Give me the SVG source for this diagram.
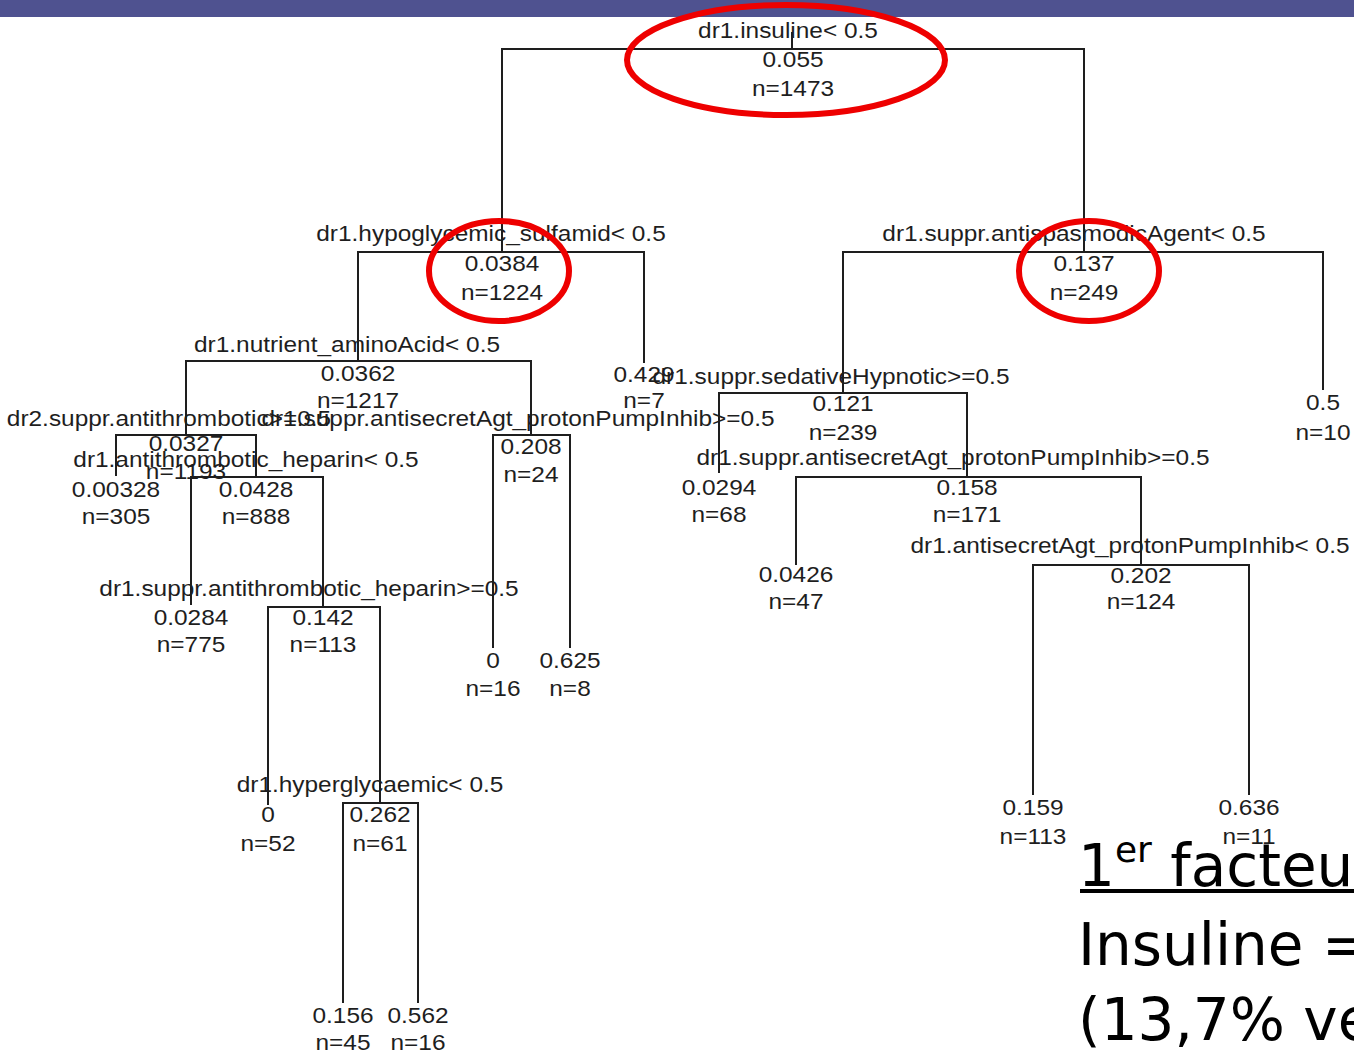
<svg xmlns="http://www.w3.org/2000/svg" width="1354" height="1053" viewBox="0 0 1354 1053">
<style>
.t{font-family:"Liberation Sans",Arial,sans-serif;font-size:22px;fill:#1e1e1e;text-anchor:middle}
.e{fill:none;stroke:#1e1e1e;stroke-width:2}
.r{fill:none;stroke:#ee0000;stroke-width:6}
.s{font-family:"DejaVu Sans",Verdana,sans-serif;font-size:58px;fill:#000}
</style>
<rect x="0" y="0" width="1354" height="1053" fill="#fff"/>
<rect x="0" y="0" width="1354" height="17" fill="#4f5290"/>
<g id="connectors">
<path class="e" d="M792 32V49"/>
<path class="e" d="M502 252V49H1084V252"/>
<path class="e" d="M358 361V252H644V363"/>
<path class="e" d="M843 393V252H1323V390"/>
<path class="e" d="M186 435V361H531V435"/>
<path class="e" d="M719 473V393H967V477"/>
<path class="e" d="M116 476V435H256V477"/>
<path class="e" d="M493 648V435H570V648"/>
<path class="e" d="M191 605V477H323V607"/>
<path class="e" d="M796 565V477H1141V565"/>
<path class="e" d="M268 805V607H380V803"/>
<path class="e" d="M1033 795V565H1249V795"/>
<path class="e" d="M343 1003V803H418V1003"/>
</g>
<g id="n-root"><text class="t" transform="translate(788,38) scale(1.11,1)">dr1.insuline&lt; 0.5</text><text class="t" transform="translate(793,67) scale(1.11,1)">0.055</text><text class="t" transform="translate(793,96) scale(1.11,1)">n=1473</text></g>
<g id="n-hypo"><text class="t" transform="translate(491,241) scale(1.11,1)">dr1.hypoglycemic_sulfamid&lt; 0.5</text><text class="t" transform="translate(502,271) scale(1.11,1)">0.0384</text><text class="t" transform="translate(502,300) scale(1.11,1)">n=1224</text></g>
<g id="n-antispas"><text class="t" transform="translate(1074,241) scale(1.11,1)">dr1.suppr.antispasmodicAgent&lt; 0.5</text><text class="t" transform="translate(1084,271) scale(1.11,1)">0.137</text><text class="t" transform="translate(1084,300) scale(1.11,1)">n=249</text></g>
<g id="n-nutrient"><text class="t" transform="translate(347,352) scale(1.11,1)">dr1.nutrient_aminoAcid&lt; 0.5</text><text class="t" transform="translate(358,381) scale(1.11,1)">0.0362</text><text class="t" transform="translate(358,408) scale(1.11,1)">n=1217</text></g>
<g id="n-leaf429"><text class="t" transform="translate(644,382) scale(1.11,1)">0.429</text><text class="t" transform="translate(644,408) scale(1.11,1)">n=7</text></g>
<g id="n-sedative"><text class="t" transform="translate(831,384) scale(1.11,1)">dr1.suppr.sedativeHypnotic&gt;=0.5</text><text class="t" transform="translate(843,411) scale(1.11,1)">0.121</text><text class="t" transform="translate(843,440) scale(1.11,1)">n=239</text></g>
<g id="n-leaf05"><text class="t" transform="translate(1323,410) scale(1.11,1)">0.5</text><text class="t" transform="translate(1323,440) scale(1.11,1)">n=10</text></g>
<g id="n-dr2antithrombotic"><text class="t" transform="translate(169,426) scale(1.11,1)">dr2.suppr.antithrombotic&gt;=0.5</text><text class="t" transform="translate(186,451) scale(1.11,1)">0.0327</text><text class="t" transform="translate(186,479) scale(1.11,1)">n=1193</text></g>
<g id="n-antisecretL"><text class="t" transform="translate(518,426) scale(1.11,1)">dr1.suppr.antisecretAgt_protonPumpInhib&gt;=0.5</text><text class="t" transform="translate(531,454) scale(1.11,1)">0.208</text><text class="t" transform="translate(531,482) scale(1.11,1)">n=24</text></g>
<g id="n-leaf00328"><text class="t" transform="translate(116,497) scale(1.11,1)">0.00328</text><text class="t" transform="translate(116,524) scale(1.11,1)">n=305</text></g>
<g id="n-heparin"><text class="t" transform="translate(246,467) scale(1.11,1)">dr1.antithrombotic_heparin&lt; 0.5</text><text class="t" transform="translate(256,497) scale(1.11,1)">0.0428</text><text class="t" transform="translate(256,524) scale(1.11,1)">n=888</text></g>
<g id="n-leaf0294"><text class="t" transform="translate(719,495) scale(1.11,1)">0.0294</text><text class="t" transform="translate(719,522) scale(1.11,1)">n=68</text></g>
<g id="n-antisecretR"><text class="t" transform="translate(953,465) scale(1.11,1)">dr1.suppr.antisecretAgt_protonPumpInhib&gt;=0.5</text><text class="t" transform="translate(967,495) scale(1.11,1)">0.158</text><text class="t" transform="translate(967,522) scale(1.11,1)">n=171</text></g>
<g id="n-leaf0284"><text class="t" transform="translate(191,625) scale(1.11,1)">0.0284</text><text class="t" transform="translate(191,652) scale(1.11,1)">n=775</text></g>
<g id="n-supprHeparin"><text class="t" transform="translate(309,596) scale(1.11,1)">dr1.suppr.antithrombotic_heparin&gt;=0.5</text><text class="t" transform="translate(323,625) scale(1.11,1)">0.142</text><text class="t" transform="translate(323,652) scale(1.11,1)">n=113</text></g>
<g id="n-leaf0426"><text class="t" transform="translate(796,582) scale(1.11,1)">0.0426</text><text class="t" transform="translate(796,609) scale(1.11,1)">n=47</text></g>
<g id="n-antisecretLt"><text class="t" transform="translate(1130,553) scale(1.11,1)">dr1.antisecretAgt_protonPumpInhib&lt; 0.5</text><text class="t" transform="translate(1141,583) scale(1.11,1)">0.202</text><text class="t" transform="translate(1141,609) scale(1.11,1)">n=124</text></g>
<g id="n-leaf0-16"><text class="t" transform="translate(493,668) scale(1.11,1)">0</text><text class="t" transform="translate(493,696) scale(1.11,1)">n=16</text></g>
<g id="n-leaf0625"><text class="t" transform="translate(570,668) scale(1.11,1)">0.625</text><text class="t" transform="translate(570,696) scale(1.11,1)">n=8</text></g>
<g id="n-hyperglyc"><text class="t" transform="translate(370,792) scale(1.11,1)">dr1.hyperglycaemic&lt; 0.5</text><text class="t" transform="translate(380,822) scale(1.11,1)">0.262</text><text class="t" transform="translate(380,851) scale(1.11,1)">n=61</text></g>
<g id="n-leaf0-52"><text class="t" transform="translate(268,822) scale(1.11,1)">0</text><text class="t" transform="translate(268,851) scale(1.11,1)">n=52</text></g>
<g id="n-leaf159"><text class="t" transform="translate(1033,815) scale(1.11,1)">0.159</text><text class="t" transform="translate(1033,844) scale(1.11,1)">n=113</text></g>
<g id="n-leaf636"><text class="t" transform="translate(1249,815) scale(1.11,1)">0.636</text><text class="t" transform="translate(1249,844) scale(1.11,1)">n=11</text></g>
<g id="n-leaf156"><text class="t" transform="translate(343,1023) scale(1.11,1)">0.156</text><text class="t" transform="translate(343,1050) scale(1.11,1)">n=45</text></g>
<g id="n-leaf562"><text class="t" transform="translate(418,1023) scale(1.11,1)">0.562</text><text class="t" transform="translate(418,1050) scale(1.11,1)">n=16</text></g>
<g id="highlights">
<ellipse class="r" cx="786" cy="60" rx="159" ry="55"/>
<ellipse class="r" cx="499" cy="271" rx="70" ry="50"/>
<ellipse class="r" cx="1089" cy="271" rx="70" ry="50"/>
</g>
<g id="caption">
<text class="s" x="1078" y="886">1<tspan font-size="36" dy="-24">er</tspan><tspan dy="24"> facteur</tspan></text>
<rect x="1080" y="889" width="274" height="4" fill="#000"/>
<text class="s" x="1078" y="965">Insuline =</text>
<text class="s" x="1078" y="1040">(13,7% ve</text>
</g>
</svg>
